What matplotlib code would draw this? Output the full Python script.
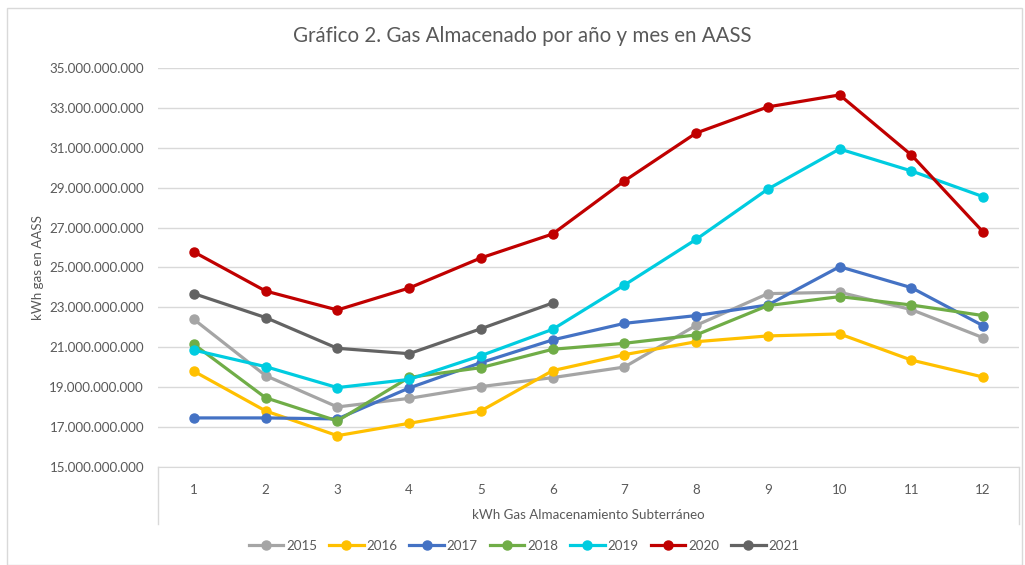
import matplotlib.pyplot as plt
from matplotlib.lines import Line2D
from matplotlib.patches import Rectangle
from matplotlib.ticker import FuncFormatter

plt.rcParams["font.family"] = ["Lato", "DejaVu Sans"]

# Gas almacenado (kWh) por mes, lectura del grafico
meses = [1, 2, 3, 4, 5, 6, 7, 8, 9, 10, 11, 12]
gas_2015 = [22.40e9, 19.58e9, 18.01e9, 18.44e9, 19.03e9, 19.48e9, 20.01e9, 22.10e9, 23.69e9, 23.76e9, 22.89e9, 21.48e9]
gas_2016 = [19.80e9, 17.81e9, 16.57e9, 17.19e9, 17.81e9, 19.83e9, 20.63e9, 21.28e9, 21.57e9, 21.67e9, 20.36e9, 19.51e9]
gas_2017 = [17.46e9, 17.46e9, 17.41e9, 18.96e9, 20.23e9, 21.37e9, 22.20e9, 22.59e9, 23.12e9, 25.04e9, 23.99e9, 22.08e9]
gas_2018 = [21.15e9, 18.47e9, 17.31e9, 19.49e9, 19.98e9, 20.90e9, 21.20e9, 21.62e9, 23.09e9, 23.54e9, 23.12e9, 22.59e9]
gas_2019 = [20.86e9, 20.03e9, 18.98e9, 19.39e9, 20.58e9, 21.90e9, 24.12e9, 26.41e9, 28.93e9, 30.94e9, 29.84e9, 28.55e9]
gas_2020 = [25.78e9, 23.82e9, 22.87e9, 23.97e9, 25.48e9, 26.68e9, 29.34e9, 31.74e9, 33.05e9, 33.65e9, 30.64e9, 26.78e9]
gas_2021 = [23.69e9, 22.49e9, 20.95e9, 20.68e9, 21.93e9, 23.22e9]

series = [
    ("2015", gas_2015, "#A5A5A5"),
    ("2016", gas_2016, "#FFC000"),
    ("2017", gas_2017, "#4472C4"),
    ("2018", gas_2018, "#70AD47"),
    ("2019", gas_2019, "#00CCE0"),
    ("2020", gas_2020, "#C00000"),
    ("2021", gas_2021, "#636363"),
]

text_color = "#595959"
grid_color = "#D9D9D9"

fig = plt.figure(figsize=(10.25, 5.65), dpi=100)
ax = fig.add_axes([158 / 1025, 1 - 467 / 565, (1019 - 158) / 1025, (467 - 68) / 565])

for name, values, color in series:
    ax.plot(
        meses[: len(values)],
        values,
        color=color,
        linewidth=2.3,
        marker="o",
        markersize=6.5,
        label=name,
        zorder=3,
    )

ax.set_xlim(0.5, 12.5)
ax.set_ylim(15e9, 35e9)
ax.set_yticks([15e9 + 2e9 * i for i in range(11)])
ax.set_xticks(meses)
ax.yaxis.set_major_formatter(FuncFormatter(lambda v, p: f"{v:,.0f}".replace(",", ".")))
ax.grid(axis="y", color=grid_color, linewidth=1)
ax.set_axisbelow(True)
for side in ["top", "right", "left"]:
    ax.spines[side].set_visible(False)
ax.spines["bottom"].set_color(grid_color)
ax.tick_params(axis="both", length=0, labelsize=9.6, labelcolor=text_color)
ax.tick_params(axis="x", pad=12)
ax.tick_params(axis="y", pad=10)

# Lineas laterales del eje de categorias (estilo Excel)
for xp in [158, 1019]:
    fig.add_artist(Line2D([xp / 1025, xp / 1025], [1 - 467 / 565, 1 - 524 / 565],
                          color=grid_color, linewidth=1, transform=fig.transFigure))

# Borde del grafico
fig.add_artist(Rectangle((7 / 1025, 0.0), 1015 / 1025, 1 - 8 / 565, fill=False,
                         edgecolor="#D9D9D9", linewidth=1, transform=fig.transFigure))

fig.text(522 / 1025, 1 - 36 / 565, "Gráfico 2. Gas Almacenado por año y mes en AASS",
         ha="center", va="center", fontsize=14.8, color=text_color)
fig.text(38 / 1025, 1 - 267 / 565, "kWh gas en AASS", rotation=90,
         ha="center", va="center", fontsize=9.6, color=text_color)
fig.text(588 / 1025, 1 - 515 / 565, "kWh Gas Almacenamiento Subterráneo",
         ha="center", va="center", fontsize=9.6, color=text_color)

fig.legend(
    loc="center",
    bbox_to_anchor=(524 / 1025, 1 - 546 / 565),
    ncol=7,
    frameon=False,
    fontsize=9.6,
    labelcolor=text_color,
    handlelength=2.6,
    handletextpad=0.2,
    columnspacing=0.9,
)

fig.savefig("out.png", dpi=100)
